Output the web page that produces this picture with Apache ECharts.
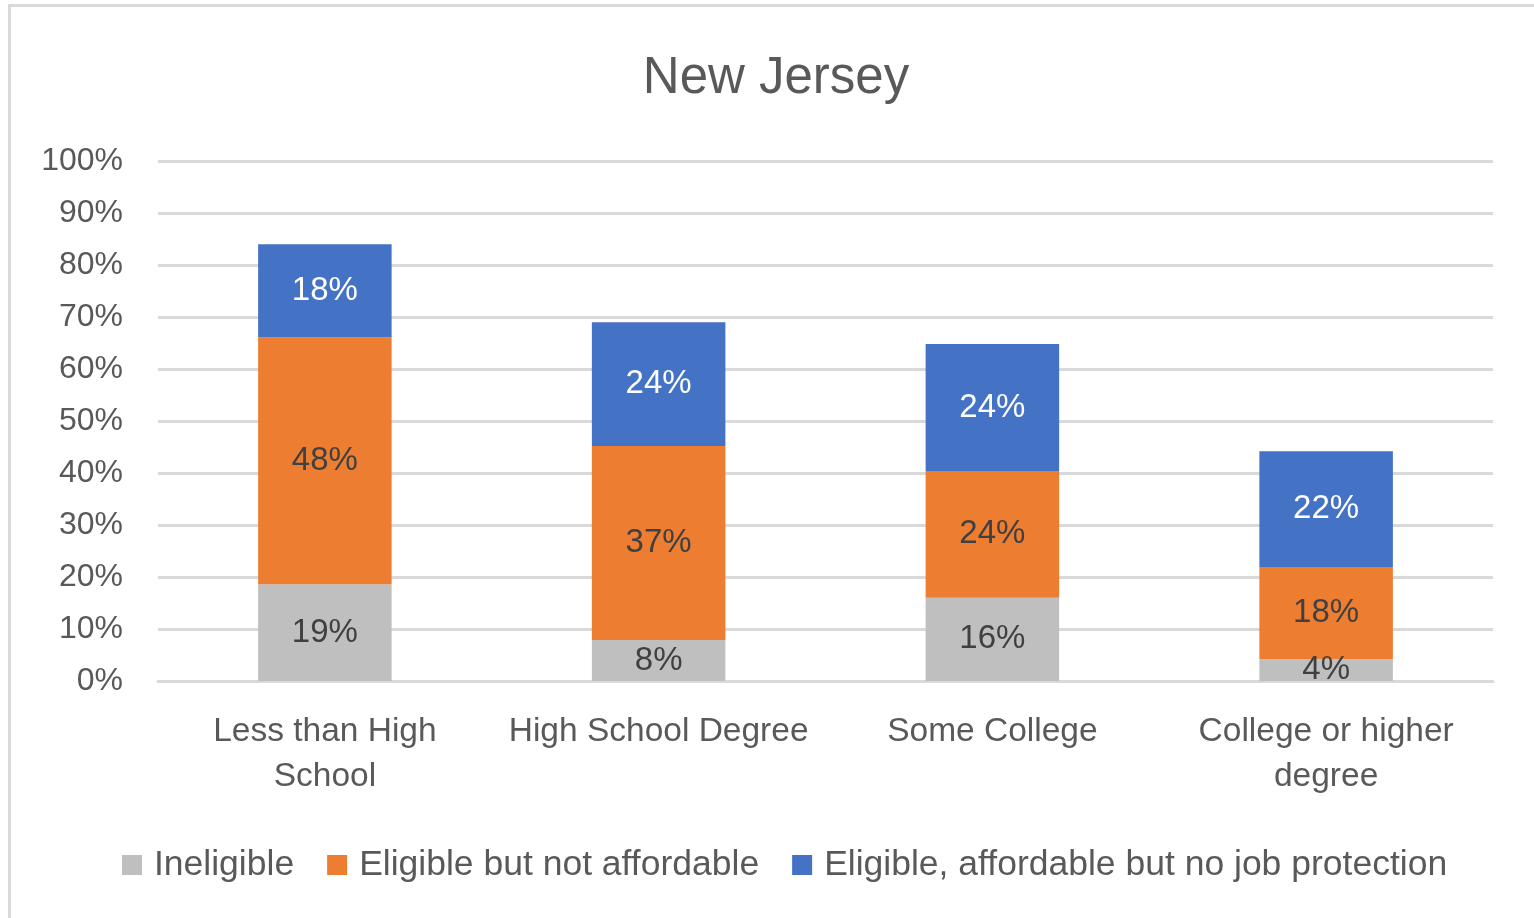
<!DOCTYPE html>
<html>
<head>
<meta charset="utf-8">
<script src="https://cdn.jsdelivr.net/npm/echarts@6/dist/echarts.min.js"></script>
<style>
  body { margin: 0; background: #fff; }
  #main { width: 1534px; height: 918px; }
</style>
</head>
<body>
<div id="main"></div>
<script>
var categories = ['Less than High\nSchool', 'High School Degree', 'Some College', 'College or higher\ndegree'];
var seriesNames = ['Ineligible', 'Eligible but not affordable', 'Eligible, affordable but no job protection'];
var ineligible = [18.6, 7.9, 16.0, 4.2];
var notAffordable = [47.5, 37.3, 24.4, 17.7];
var noProtection = [17.9, 23.8, 24.4, 22.3];
var colors = ['#bfbfbf', '#ed7d31', '#4472c4'];
var labelColors = ['#404040', '#404040', '#ffffff'];

var font = 'Liberation Sans';

function makeSeries(idx, data) {
  return {
    name: seriesNames[idx],
    type: 'bar',
    stack: 'total',
    barCategoryGap: '60%',
    data: data,
    itemStyle: { color: colors[idx] },
    label: {
      show: true,
      position: 'inside',
      color: labelColors[idx],
      fontFamily: font,
      fontSize: 33,
      formatter: function (p) { return Math.round(p.value) + '%'; }
    }
  };
}

var option = {
  animation: false,
  backgroundColor: '#ffffff',
  title: {
    text: 'New Jersey',
    left: 771,
    top: 48,
    textAlign: 'center',
    textStyle: {
      fontFamily: font,
      fontSize: 51,
      fontWeight: 'normal',
      color: '#595959'
    }
  },
  legend: {
    data: seriesNames,
    left: 117,
    top: 842,
    itemWidth: 20,
    itemHeight: 20,
    itemGap: 33,
    icon: 'rect',
    textStyle: {
      fontFamily: font,
      fontSize: 35.5,
      color: '#595959',
      padding: [0, 0, 0, 7]
    }
  },
  grid: {
    left: 158,
    right: 41,
    top: 161,
    bottom: 237
  },
  xAxis: {
    type: 'category',
    data: categories,
    axisLine: { lineStyle: { color: '#d9d9d9', width: 3 } },
    axisTick: { show: false },
    axisLabel: {
      interval: 0,
      margin: 28,
      fontFamily: font,
      fontSize: 33.5,
      lineHeight: 45,
      color: '#595959'
    }
  },
  yAxis: {
    type: 'value',
    min: 0,
    max: 100,
    interval: 10,
    axisLine: { show: false },
    axisTick: { show: false },
    axisLabel: {
      margin: 35,
      fontFamily: font,
      fontSize: 32,
      color: '#595959',
      formatter: '{value}%'
    },
    splitLine: { lineStyle: { color: '#d9d9d9', width: 3 } }
  },
  graphic: [
    {
      type: 'rect',
      shape: { x: 9.5, y: 5.5, width: 1600, height: 1000 },
      style: { fill: 'none', stroke: '#d9d9d9', lineWidth: 3 },
      silent: true
    }
  ],
  series: [
    makeSeries(0, ineligible),
    makeSeries(1, notAffordable),
    makeSeries(2, noProtection)
  ]
};

var chart = echarts.init(document.getElementById('main'));
chart.setOption(option);
</script>
</body>
</html>
